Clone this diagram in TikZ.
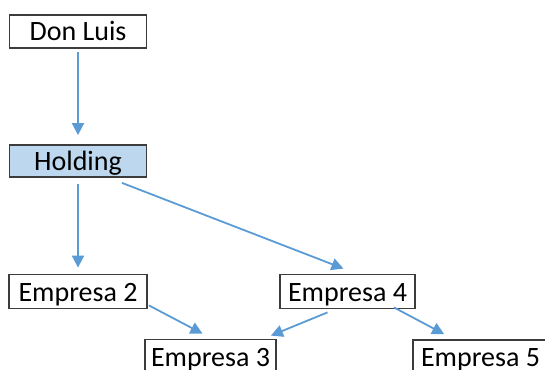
\documentclass[tikz,border=0pt]{standalone}
\usepackage{fontspec}
\setmainfont{Carlito}
\usetikzlibrary{arrows.meta}
\definecolor{flecha}{RGB}{91,155,213}
\definecolor{relleno}{RGB}{189,215,238}
\definecolor{borde}{RGB}{60,60,60}

\begin{document}
\begin{tikzpicture}[x=1pt, y=-1pt, font=\fontsize{28}{32}\selectfont,
    caja/.style={draw=borde, line width=1.8pt, inner sep=0pt, text height=19pt, text depth=0pt, minimum width=#1, minimum height=34pt},
    enlace/.style={draw=flecha, line width=1.8pt, -{Triangle[length=12pt, width=12pt]}}]
            \clip (0,0) rectangle (545,369);
            \node[caja=137pt, minimum height=33pt] (don) at (78,31.5) {Don Luis};
            \node[caja=137pt, minimum height=32pt, fill=relleno] (hold) at (78,161) {Holding};
            \node[caja=138pt] (e2) at (78,291.5) {Empresa 2};
            \node[caja=135pt] (e4) at (347.5,291.5) {Empresa 4};
            \node[caja=131pt] (e3) at (210.5,356.5) {Empresa 3};
            \node[caja=135pt] (e5) at (480.5,357) {Empresa 5};
            \draw[enlace] ([yshift=-3pt]don.south) -- ([yshift=9pt]hold.north);
            \draw[enlace] ([yshift=-6pt]hold.south) -- ([yshift=6pt]e2.north);
            \draw[enlace] ([xshift=44pt,yshift=-5pt]hold.south) -- ([xshift=-4pt,yshift=5pt]e4.north);
            \draw[enlace] ([xshift=1pt,yshift=4pt]e2.south east) -- ([xshift=-8pt,yshift=5pt]e3.north);
            \draw[enlace] ([xshift=-20pt,yshift=-3pt]e4.south) -- ([xshift=-6pt,yshift=3pt]e3.north east);
            \draw[enlace] ([xshift=-22pt,yshift=2pt]e4.south east) -- ([xshift=32pt,yshift=5pt]e5.north west);
        \end{tikzpicture}
\end{document}
